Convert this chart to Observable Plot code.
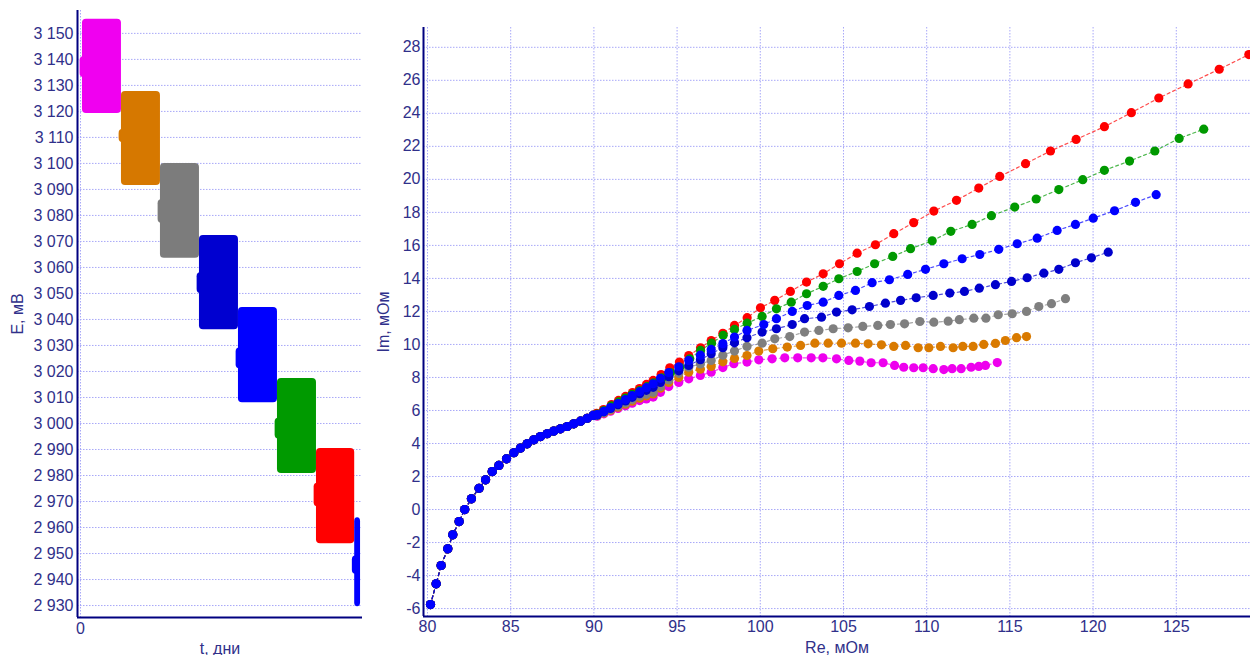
<!DOCTYPE html>
<html><head><meta charset="utf-8">
<script src="https://cdn.jsdelivr.net/npm/d3@7"></script>
<script src="https://cdn.jsdelivr.net/npm/@observablehq/plot@0.6"></script>
<style>
body{margin:0;background:#fff;}
#wrap{position:relative;width:1250px;height:655px;overflow:hidden;background:#fff;}
#left{position:absolute;left:0;top:0;}
#right{position:absolute;left:360px;top:0;}
</style></head><body><div id="wrap"><div id="left"></div><div id="right"></div></div>
<script>
// ---------- Left panel data: E(t) blocks ----------
const blockColors = ["#f000f0","#d67800","#7c7c7c","#0000d0","#0000ff","#009a00","#ff0000","#0000ff"];
const blockStart  = [0.05, 1.05, 2.05, 3.05, 4.05, 5.05, 6.05, 7.03];
const blockEnd    = [1.05, 2.05, 3.05, 4.05, 5.05, 6.05, 7.03, 7.18];
const blockTop    = [3155.4, 3127.7, 3100.0, 3072.3, 3044.6, 3017.3, 2990.4, 2963.8];
const blockBottom = [3119.2, 3091.5, 3063.5, 3036.0, 3008.0, 2980.8, 2953.8, 2929.5];
const bulgeTop    = [3141, 3113, 3086, 3058, 3029, 3002, 2977, 2949];
const bulgeBottom = [3133, 3108, 3077, 3050, 3021, 2994, 2968, 2942];
const eTicks = d3.range(2930, 3151, 10);
const tTicks = [0];

// ---------- Right panel data: Nyquist plots ----------
const common = [[80.18,-5.76],[80.52,-4.5],[80.82,-3.39],[81.22,-2.38],[81.52,-1.53],[81.9,-0.73],[82.24,0.0],[82.64,0.65],[83.1,1.29],[83.49,1.8],[83.89,2.3],[84.29,2.67],[84.75,3.07],[85.19,3.44],[85.59,3.72],[85.99,3.98],[86.39,4.22],[86.79,4.42],[87.19,4.59],[87.59,4.75],[87.99,4.89],[88.4,5.03],[88.79,5.19],[89.2,5.35],[89.6,5.53],[89.96,5.7]];
const pink = [[90.2,5.65],[90.6,5.8],[91.0,5.96],[91.45,6.12],[91.9,6.28],[92.3,6.44],[92.75,6.6],[93.15,6.7],[93.56,6.81],[94.0,7.1],[94.5,7.45],[95.1,7.7],[95.7,7.92],[96.4,8.12],[97.05,8.32],[97.75,8.6],[98.41,8.83],[99.2,8.93],[99.91,9.07],[100.71,9.13],[101.47,9.19],[102.25,9.19],[103.06,9.19],[103.76,9.19],[104.58,9.13],[105.32,9.03],[105.98,8.99],[106.66,8.89],[107.38,8.89],[108.07,8.73],[108.62,8.62],[109.22,8.59],[109.79,8.59],[110.39,8.53],[111.03,8.48],[111.53,8.53],[112.07,8.53],[112.67,8.62],[113.13,8.67],[113.53,8.73],[114.24,8.9]];
const orange = [[90.2,5.68],[90.6,5.85],[91.0,6.02],[91.45,6.2],[91.9,6.38],[92.3,6.56],[92.75,6.74],[93.15,6.88],[93.56,7.0],[94.0,7.35],[94.5,7.7],[95.1,8.0],[95.7,8.32],[96.4,8.5],[97.05,8.67],[97.75,8.95],[98.45,9.15],[99.2,9.33],[99.91,9.6],[100.75,9.74],[101.62,9.84],[102.42,9.94],[103.28,10.08],[104.08,10.08],[104.88,10.08],[105.72,10.08],[106.48,10.04],[107.28,9.98],[108.02,9.88],[108.73,9.94],[109.49,9.8],[110.13,9.8],[110.83,9.88],[111.59,9.8],[112.17,9.88],[112.79,9.88],[113.43,10.0],[114.13,10.06],[114.73,10.24],[115.4,10.41],[116.0,10.48]];
const gray = [[90.2,5.7],[90.6,5.88],[91.0,6.06],[91.45,6.26],[91.9,6.46],[92.3,6.66],[92.75,6.86],[93.15,6.98],[93.56,7.1],[94.0,7.45],[94.5,7.85],[95.1,8.25],[95.7,8.62],[96.4,8.82],[97.05,9.03],[97.75,9.35],[98.45,9.6],[99.2,9.88],[100.11,10.08],[100.87,10.34],[101.77,10.48],[102.66,10.75],[103.52,10.85],[104.38,10.95],[105.28,11.01],[106.16,11.09],[107.06,11.15],[107.82,11.21],[108.67,11.25],[109.59,11.39],[110.43,11.35],[111.29,11.41],[111.96,11.5],[112.83,11.59],[113.56,11.59],[114.3,11.8],[115.14,11.86],[116.0,12.0],[116.74,12.3],[117.5,12.47],[118.34,12.77]];
const darkBlue = [[90.2,5.72],[90.6,5.92],[91.0,6.12],[91.45,6.35],[91.9,6.58],[92.3,6.8],[92.75,7.02],[93.15,7.22],[93.56,7.4],[94.0,7.7],[94.5,8.05],[95.1,8.4],[95.7,8.73],[96.4,9.08],[97.05,9.44],[97.75,9.8],[98.45,10.1],[99.2,10.41],[100.11,10.75],[100.97,10.95],[101.92,11.21],[102.66,11.56],[103.68,11.65],[104.58,11.96],[105.52,12.1],[106.56,12.3],[107.52,12.5],[108.43,12.67],[109.37,12.83],[110.39,12.97],[111.39,13.11],[112.27,13.21],[113.16,13.41],[114.13,13.62],[115.1,13.82],[116.04,14.04],[117.04,14.32],[117.94,14.55],[118.94,14.95],[119.9,15.25],[120.91,15.59]];
const blue = [[90.2,5.75],[90.6,5.95],[91.0,6.18],[91.45,6.42],[91.9,6.66],[92.3,6.9],[92.75,7.14],[93.15,7.38],[93.56,7.62],[94.0,7.95],[94.5,8.3],[95.1,8.65],[95.7,9.03],[96.4,9.35],[97.05,9.7],[97.75,10.05],[98.45,10.45],[99.2,10.85],[100.21,11.21],[100.97,11.56],[101.92,12.0],[102.82,12.36],[103.78,12.56],[104.72,12.97],[105.72,13.27],[106.72,13.74],[107.76,13.92],[108.86,14.24],[109.93,14.55],[111.03,14.89],[112.13,15.19],[113.19,15.45],[114.33,15.76],[115.44,16.1],[116.64,16.44],[117.84,16.91],[118.94,17.27],[120.01,17.65],[121.29,18.1],[122.55,18.61],[123.79,19.07]];
const green = [[90.2,5.78],[90.6,6.0],[91.05,6.28],[91.5,6.52],[91.9,6.75],[92.3,6.98],[92.75,7.2],[93.2,7.44],[93.6,7.68],[94.1,7.98],[94.6,8.3],[95.16,8.62],[95.76,9.13],[96.41,9.64],[97.07,10.08],[97.77,10.55],[98.45,10.91],[99.21,11.29],[100.11,11.7],[100.97,12.16],[101.86,12.56],[102.78,13.07],[103.78,13.52],[104.72,13.98],[105.82,14.42],[106.87,14.89],[107.96,15.33],[109.03,15.8],[110.33,16.28],[111.45,16.85],[112.73,17.27],[113.89,17.8],[115.29,18.32],[116.58,18.81],[117.94,19.38],[119.38,19.98],[120.68,20.55],[122.19,21.11],[123.71,21.72],[125.17,22.48],[126.65,23.04]];
const red = [[90.16,5.82],[90.58,6.06],[91.06,6.36],[91.48,6.61],[91.9,6.85],[92.32,7.09],[92.74,7.33],[93.16,7.58],[93.56,7.82],[94.04,8.18],[94.56,8.59],[95.14,8.93],[95.7,9.33],[96.41,9.8],[97.05,10.24],[97.75,10.68],[98.45,11.15],[99.21,11.62],[100.01,12.22],[100.87,12.67],[101.81,13.21],[102.78,13.78],[103.78,14.28],[104.76,14.89],[105.82,15.53],[106.92,16.04],[108.02,16.71],[109.22,17.38],[110.43,18.08],[111.79,18.73],[113.13,19.47],[114.39,20.18],[115.94,20.95],[117.44,21.72],[118.98,22.42],[120.68,23.19],[122.3,24.04],[123.95,24.93],[125.71,25.78],[127.58,26.67],[129.36,27.56]];
const seriesNames  = ["S1","S2","S3","S7","S6","S4","S5"];
const seriesData   = [pink, orange, gray, red, green, darkBlue, blue];
const seriesColors = ["#ee00ee","#d97a00","#7f7f7f","#ff0000","#009900","#0000cc","#0000ff"];
const reTicks = d3.range(80, 126, 5);
const imTicks = d3.range(-6, 29, 2);

// ---------- common styling ----------
const textColor = "#30308a";
const axisColor = "#000080";
const gridColor = "#a8a8f8";
const font = "'Liberation Sans', Arial, sans-serif";
const fmtE = d3.formatLocale({decimal: ".", thousands: " ", grouping: [3], currency: ["", ""]}).format(",d");
const fmtPlain = d => String(d);

// ---------- Left chart ----------
const blocks = blockStart.map((s, i) => ({x1: s, x2: blockEnd[i], y1: blockBottom[i], y2: blockTop[i], c: blockColors[i]}));
const bulges = blockStart.map((s, i) => ({x1: s - 0.06, x2: s + 0.12, y1: bulgeBottom[i], y2: bulgeTop[i], c: blockColors[i]}));
const tDomain = [-0.077, 7.23];
const eDomain = [2925.4, 3158.8];
const layered = [];
blocks.forEach((b, i) => { layered.push(bulges[i], b); });

const left = Plot.plot({
  width: 380, height: 655,
  marginLeft: 77, marginRight: 18, marginTop: 10, marginBottom: 38,
  style: {fontFamily: font, fontSize: "16px", color: textColor, background: "transparent"},
  x: {domain: tDomain},
  y: {domain: eDomain},
  marks: [
    Plot.gridY(eTicks, {stroke: gridColor, strokeOpacity: 1, strokeDasharray: "1.5,1.5"}),
    Plot.gridX(tTicks, {stroke: gridColor, strokeOpacity: 1, strokeDasharray: "1.5,1.5"}),
    Plot.rect(layered, {x1: "x1", x2: "x2", y1: "y1", y2: "y2", fill: d => d.c, rx: 4}),
    Plot.axisY({ticks: eTicks, tickSize: 0, tickPadding: 4, tickFormat: fmtE, fill: textColor,
      label: "E, мВ", labelAnchor: "center", labelArrow: "none", labelOffset: 66}),
    Plot.axisX({ticks: tTicks, tickSize: 0, tickPadding: 5, tickFormat: fmtPlain, fill: textColor,
      label: "t, дни", labelAnchor: "center", labelArrow: "none", labelOffset: 36}),
    Plot.ruleX([tDomain[0]], {stroke: axisColor, strokeWidth: 2}),
    Plot.ruleY([eDomain[0]], {stroke: axisColor, strokeWidth: 2})
  ]
});
document.getElementById("left").appendChild(left);

// ---------- Right chart ----------
const rows = [];
seriesNames.forEach((name, i) => {
  for (const [re, im] of common.concat(seriesData[i])) rows.push({re, im, s: name});
});
const reDomain = [79.76, 129.46];
const imDomain = [-6.48, 29.2];

const right = Plot.plot({
  width: 890, height: 655,
  marginLeft: 63, marginRight: 0, marginTop: 27, marginBottom: 39,
  style: {fontFamily: font, fontSize: "16px", color: textColor, background: "transparent", overflow: "visible"},
  x: {domain: reDomain},
  y: {domain: imDomain},
  color: {domain: seriesNames, range: seriesColors},
  marks: [
    Plot.gridY(imTicks, {stroke: gridColor, strokeOpacity: 1, strokeDasharray: "1.5,1.5"}),
    Plot.gridX(reTicks, {stroke: gridColor, strokeOpacity: 1, strokeDasharray: "1.5,1.5"}),
    Plot.line(rows, {x: "re", y: "im", z: "s", stroke: "s", strokeWidth: 1.2, strokeDasharray: "3,3", strokeOpacity: 0.7, clip: true}),
    Plot.dot(rows, {x: "re", y: "im", fill: "s", r: 4.6, clip: true}),
    Plot.axisY({ticks: imTicks, tickSize: 0, tickPadding: 3, tickFormat: fmtPlain, fill: textColor,
      label: "Im, мОм", labelAnchor: "center", labelArrow: "none", labelOffset: 46}),
    Plot.axisX({ticks: reTicks, tickSize: 0, tickPadding: 4, tickFormat: fmtPlain, fill: textColor,
      label: "Re, мОм", labelAnchor: "center", labelArrow: "none", labelOffset: 36}),
    Plot.ruleX([reDomain[0]], {stroke: axisColor, strokeWidth: 2}),
    Plot.ruleY([imDomain[0]], {stroke: axisColor, strokeWidth: 2})
  ]
});
document.getElementById("right").appendChild(right);
</script></body></html>
